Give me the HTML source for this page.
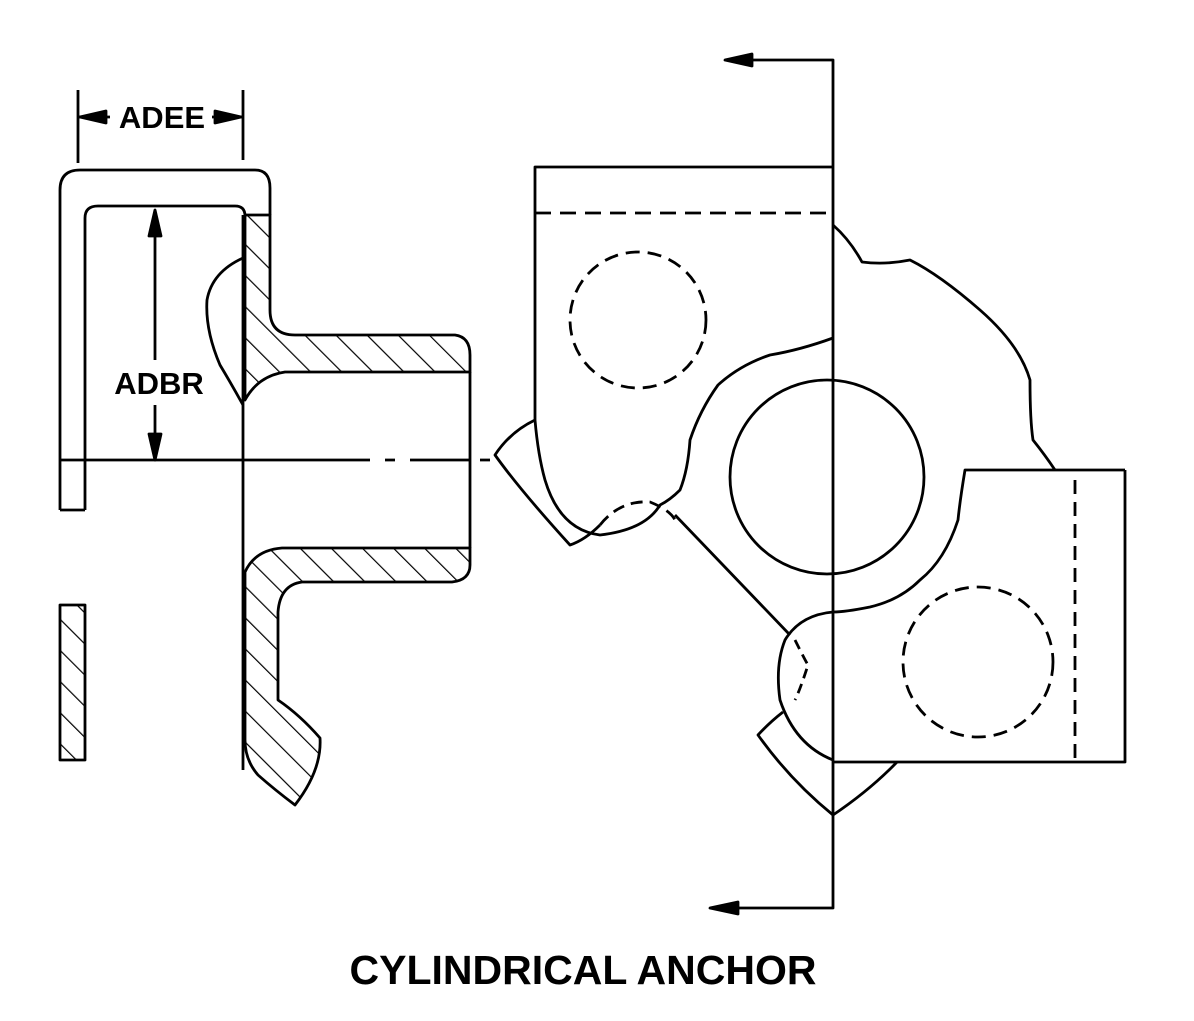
<!DOCTYPE html>
<html><head><style>
html,body{margin:0;padding:0;background:#fff;}
svg{display:block;}
text{font-family:"Liberation Sans",Arial,sans-serif;font-weight:bold;fill:#000;}
</style></head><body>
<svg width="1194" height="1021" viewBox="0 0 1194 1021" xmlns="http://www.w3.org/2000/svg">
<defs>
<pattern id="h" patternUnits="userSpaceOnUse" width="22" height="22" patternTransform="rotate(-45)">
<line x1="0" y1="0" x2="0" y2="22" stroke="#000" stroke-width="2.4"/>
</pattern>
</defs>
<g fill="none" stroke="#000" stroke-width="2.8" stroke-linejoin="round">
<!-- section arrows -->
<polyline points="740,60 833,60 833,908 725,908"/>
<polygon points="725,60 752,54 752,66" fill="#000"/>
<polygon points="710,908 738,902 738,914" fill="#000"/>

<!-- bracket -->
<path d="M60,510 L60,190 Q60,170 80,170 L255,170 Q270,170 270,188 L270,215"/>
<path d="M85,510 L85,218 Q85,206 98,206 L235,206 Q245,206 245,216"/>
<line x1="60" y1="510" x2="85" y2="510"/>
<rect x="60" y="605" width="25" height="155" fill="url(#h)"/>

<!-- dimension ADEE -->
<line x1="78" y1="90" x2="78" y2="163"/>
<line x1="243" y1="90" x2="243" y2="160"/>
<line x1="78" y1="117" x2="110" y2="117"/>
<line x1="212" y1="117" x2="243" y2="117"/>
<polygon points="80,117 106,111 106,123" fill="#000"/>
<polygon points="241,117 215,111 215,123" fill="#000"/>
<!-- ADBR -->
<line x1="155" y1="210" x2="155" y2="360"/>
<line x1="155" y1="405" x2="155" y2="460"/>
<polygon points="155,210 149,236 161,236" fill="#000"/>
<polygon points="155,460 149,434 161,434" fill="#000"/>

<!-- centerline -->
<path d="M60,460 L370,460 M385,460 L395,460 M410,460 L470,460 M480,460 L490,460" />

<!-- flange -->
<path d="M245,215 L270,215 L270,310 Q270,335 295,335 L455,335 Q470,337 470,355 L470,372 L285,372 Q258,376 245,400 Z" fill="url(#h)"/>
<path d="M245,572 Q255,550 282,548 L470,548 L470,565 Q470,580 452,582 L302,582 Q280,585 278,612 L278,700 Q300,715 320,738 Q322,770 295,805 Q275,790 258,775 Q245,760 245,740 Z" fill="url(#h)"/>
<line x1="243" y1="215" x2="243" y2="770"/>
<line x1="470" y1="372" x2="470" y2="548"/>
<path d="M243,258 Q212,272 207,300 Q205,330 220,365 Q232,385 243,405"/>

<!-- right part -->
<path d="M833,167 L535,167 L535,420"/>
<path d="M535,213 L833,213" stroke-dasharray="16,9"/>
<circle cx="638" cy="320" r="68" stroke-dasharray="14,8"/>
<path d="M833,225 Q850,240 862,262 Q885,265 910,260 Q940,275 980,310 Q1020,345 1030,380 Q1030,420 1033,440 Q1045,455 1055,470"/>
<path d="M833,338 Q800,350 770,355 Q740,365 718,385 Q700,410 690,440 Q688,470 680,490 Q670,500 660,505 Q645,530 600,535 Q560,530 545,480 Q538,455 535,420"/>
<path d="M535,420 Q510,432 495,455 Q520,490 570,545 Q585,540 600,525"/>
<path d="M600,525 Q620,500 650,502 Q670,510 675,520" stroke-dasharray="12,7"/>
<path d="M675,515 L790,635"/>
<circle cx="827" cy="477" r="97"/>
<path d="M1125,470 L965,470 Q960,500 958,520 Q945,560 920,580 Q900,600 870,607 Q845,612 833,612"/>
<path d="M1125,470 L1125,762 L833,762"/>
<path d="M1075,480 L1075,762" stroke-dasharray="14,8"/>
<circle cx="978" cy="662" r="75" stroke-dasharray="14,8"/>
<path d="M833,612 Q800,615 785,640 Q775,665 780,700 Q795,745 833,760"/>
<path d="M795,640 Q805,660 808,665 Q800,690 795,700" stroke-dasharray="10,6"/>
<path d="M783,712 Q770,722 758,735 Q790,780 833,815 Q870,790 897,762"/>
</g>

<text x="162" y="128" font-size="31" text-anchor="middle">ADEE</text>
<text x="159" y="394" font-size="31" text-anchor="middle">ADBR</text>
<text x="583" y="984" font-size="41" text-anchor="middle">CYLINDRICAL ANCHOR</text>
</svg>
</body></html>
